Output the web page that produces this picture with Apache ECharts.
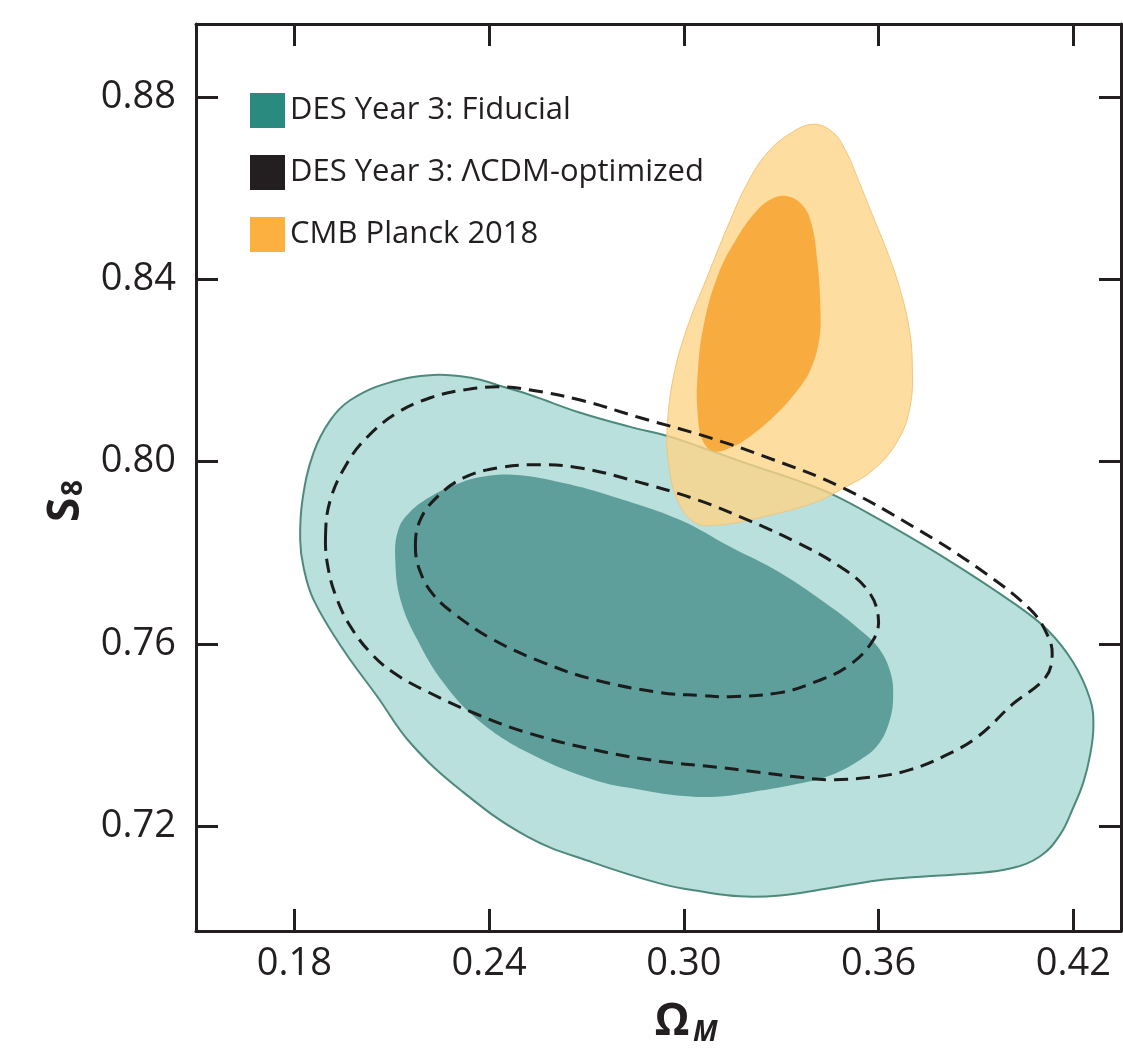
<!DOCTYPE html>
<html>
<head>
<meta charset="utf-8">
<script src="https://cdn.jsdelivr.net/npm/echarts@6/dist/echarts.min.js"></script>
<style>
html,body{margin:0;padding:0;background:#fff;}
#c{width:1123px;height:1050px;}
</style>
</head>
<body>
<div id="c"></div>
<script>
// ---- data (Omega_M, S8) ----
const xTicks = [0.18, 0.24, 0.30, 0.36, 0.42];
const yTicks = [0.72, 0.76, 0.80, 0.84, 0.88];

const fiducialOuter = [
  [0.1818,0.7828],[0.1825,0.7916],[0.1859,0.8019],[0.1911,0.8091],[0.1973,0.8135],[0.2087,0.8172],
  [0.2228,0.8190],[0.2351,0.8183],[0.2425,0.8168],[0.2527,0.8146],[0.2681,0.8107],[0.2835,0.8076],
  [0.2949,0.8056],[0.3051,0.8032],[0.3205,0.7993],[0.3359,0.7956],[0.3461,0.7927],[0.3605,0.7872],
  [0.3812,0.7785],[0.4015,0.7690],[0.4120,0.7631],[0.4200,0.7559],[0.4252,0.7478],[0.4262,0.7419],
  [0.4252,0.7357],[0.4231,0.7296],[0.4200,0.7241],[0.4160,0.7182],[0.4098,0.7134],[0.4006,0.7107],
  [0.3883,0.7096],[0.3750,0.7090],[0.3596,0.7081],[0.3442,0.7063],[0.3297,0.7048],[0.3174,0.7046],
  [0.3051,0.7057],[0.2928,0.7074],
  [0.2721,0.7120],[0.2518,0.7177],[0.2311,0.7280],[0.2157,0.7383],[0.2056,0.7484],[0.1951,0.7587],
  [0.1859,0.7697],[0.1828,0.7769]
];
const fiducialInner = [
  [0.2111,0.7785],[0.2120,0.7850],[0.2157,0.7890],[0.2219,0.7923],[0.2296,0.7949],[0.2373,0.7966],
  [0.2475,0.7971],[0.2629,0.7953],[0.2783,0.7923],[0.2989,0.7872],[0.3143,0.7813],[0.3297,0.7756],
  [0.3451,0.7682],[0.3534,0.7636],[0.3599,0.7592],[0.3636,0.7539],[0.3645,0.7484],[0.3633,0.7429],
  [0.3599,0.7379],[0.3544,0.7346],[0.3442,0.7309],[0.3337,0.7291],[0.3236,0.7278],[0.3112,0.7265],
  [0.2989,0.7267],[0.2866,0.7280],
  [0.2721,0.7302],[0.2518,0.7362],[0.2364,0.7434],[0.2259,0.7515],[0.2179,0.7609],[0.2127,0.7697]
];
const lcdmOuter = [
  [0.1896,0.7835],[0.1911,0.7916],[0.1963,0.7997],[0.2025,0.8054],[0.2117,0.8107],[0.2219,0.8140],
  [0.2321,0.8157],[0.2425,0.8164],[0.2527,0.8157],[0.2681,0.8135],[0.2866,0.8096],[0.3072,0.8054],
  [0.3276,0.8004],[0.3482,0.7945],[0.3707,0.7857],[0.3913,0.7763],[0.4068,0.7675],[0.4120,0.7620],
  [0.4135,0.7576],[0.4114,0.7526],[0.4012,0.7467],[0.3907,0.7397],[0.3800,0.7353],[0.3698,0.7324],
  [0.3596,0.7309],[0.3442,0.7302],[0.3337,0.7309],[0.3236,0.7318],[0.3082,0.7331],[0.2928,0.7342],
  [0.2721,0.7368],[0.2518,0.7405],[0.2364,0.7445],[0.2210,0.7495],[0.2105,0.7537],[0.2034,0.7581],
  [0.1973,0.7638],[0.1932,0.7697],[0.1905,0.7763]
];
const lcdmInner = [
  [0.2173,0.7813],[0.2188,0.7872],[0.2241,0.7923],[0.2321,0.7964],[0.2425,0.7986],[0.2558,0.7993],
  [0.2681,0.7986],[0.2835,0.7960],[0.3042,0.7916],[0.3196,0.7872],[0.3350,0.7822],[0.3482,0.7769],
  [0.3565,0.7719],[0.3599,0.7660],[0.3584,0.7609],[0.3504,0.7550],[0.3399,0.7515],[0.3297,0.7493],
  [0.3143,0.7484],[0.3051,0.7487],[0.2928,0.7493],[0.2721,0.7522],[0.2567,0.7559],[0.2413,0.7609],
  [0.2296,0.7664],[0.2228,0.7708],[0.2188,0.7758]
];
const planckOuter = [
  [0.3399,0.8740],[0.3458,0.8723],[0.3498,0.8683],[0.3538,0.8617],[0.3581,0.8541],[0.3627,0.8460],
  [0.3667,0.8376],[0.3695,0.8289],[0.3704,0.8212],[0.3698,0.8124],[0.3661,0.8048],
  [0.3584,0.7982],[0.3482,0.7938],[0.3399,0.7909],
  [0.3245,0.7879],[0.3112,0.7861],[0.3035,0.7866],[0.2980,0.7916],[0.2952,0.8004],[0.2949,0.8076],
  [0.2968,0.8186],[0.3011,0.8295],[0.3072,0.8405],[0.3134,0.8514],[0.3196,0.8611],[0.3257,0.8677],
  [0.3328,0.8720]
];
const planckInner = [
  [0.3319,0.8582],[0.3359,0.8567],[0.3390,0.8530],[0.3411,0.8442],[0.3421,0.8332],[0.3417,0.8267],
  [0.3390,0.8201],[0.3344,0.8151],[0.3282,0.8102],[0.3211,0.8059],[0.3143,0.8030],[0.3091,0.8023],
  [0.3057,0.8048],[0.3042,0.8113],[0.3042,0.8186],[0.3060,0.8295],[0.3103,0.8405],[0.3165,0.8492],
  [0.3227,0.8552],[0.3276,0.8578]
];

const NAME_FID = 'DES Year 3: Fiducial';
const NAME_LCDM = 'DES Year 3: \u039BCDM-optimized';
const NAME_CMB = 'CMB Planck 2018';

const INK = '#231f20';
const FONT = '"Open Sans", "Liberation Sans", sans-serif';

function contour(name, pts, legendColor, style, z) {
  return {
    type: 'custom',
    name: name,
    coordinateSystem: 'cartesian2d',
    data: pts,
    z: z,
    silent: true,
    itemStyle: { color: legendColor },
    renderItem: function (params, api) {
      if (params.dataIndex !== 0) return null;
      const P = pts.map(function (p) { return api.coord(p); });
      return {
        type: 'polygon',
        shape: { points: P, smooth: 0.4 },
        style: style
      };
    }
  };
}

const chart = echarts.init(document.getElementById('c'), null, { renderer: 'canvas' });

const axisLineStyle = { show: true, lineStyle: { color: INK, width: 3 } };
const tickStyle = (vals) => ({ show: true, inside: true, length: 22, customValues: vals, lineStyle: { color: INK, width: 3 } });

chart.setOption({
  animation: false,
  backgroundColor: '#fff',
  grid: { left: 196, right: 2, top: 24, bottom: 119, containLabel: false },
  xAxis: [
    {
      type: 'value', min: 0.1497, max: 0.4347, position: 'bottom',
      axisLine: axisLineStyle, axisTick: tickStyle(xTicks),
      axisLabel: { customValues: xTicks, formatter: v => v.toFixed(2), fontSize: 38, fontFamily: FONT, color: INK, margin: 14 },
      splitLine: { show: false }
    },
    {
      type: 'value', min: 0.1497, max: 0.4347, position: 'top',
      axisLine: axisLineStyle, axisTick: tickStyle(xTicks),
      axisLabel: { show: false }, splitLine: { show: false }
    }
  ],
  yAxis: [
    {
      type: 'value', min: 0.697, max: 0.896, position: 'left',
      axisLine: axisLineStyle, axisTick: tickStyle(yTicks),
      axisLabel: { customValues: yTicks, formatter: v => v.toFixed(2), fontSize: 38, fontFamily: FONT, color: INK, margin: 20 },
      splitLine: { show: false }
    },
    {
      type: 'value', min: 0.697, max: 0.896, position: 'right',
      axisLine: axisLineStyle, axisTick: tickStyle(yTicks),
      axisLabel: { show: false }, splitLine: { show: false }
    }
  ],
  legend: {
    left: 250, top: 93, orient: 'vertical', padding: 0,
    itemWidth: 35, itemHeight: 35, itemGap: 27, icon: 'rect',
    selectedMode: false,
    textStyle: { fontSize: 31, fontFamily: FONT, color: INK },
    data: [
      { name: NAME_FID, itemStyle: { color: '#2b8a80' } },
      { name: NAME_LCDM, itemStyle: { color: '#231f20' } },
      { name: NAME_CMB, itemStyle: { color: '#fbb040' } }
    ]
  },
  series: [
    contour(NAME_FID, fiducialOuter, '#2b8a80', { fill: '#b9e0dc', stroke: '#4e8a7c', lineWidth: 2 }, 1),
    contour(NAME_FID, fiducialInner, '#2b8a80', { fill: '#5f9f9b', stroke: null, lineWidth: 0 }, 2),
    contour(NAME_CMB, planckOuter, '#fbb040', { fill: 'rgba(252,212,136,0.8)', stroke: '#f4c47c', lineWidth: 1 }, 3),
    contour(NAME_CMB, planckInner, '#fbb040', { fill: '#f8ab3e', stroke: null, lineWidth: 0 }, 4),
    contour(NAME_LCDM, lcdmOuter, '#231f20', { fill: 'none', stroke: '#1c1c1c', lineWidth: 3, lineDash: [14, 8] }, 5),
    contour(NAME_LCDM, lcdmInner, '#231f20', { fill: 'none', stroke: '#1c1c1c', lineWidth: 3, lineDash: [14, 8] }, 5)
  ],
  graphic: [
    {
      type: 'group', x: 684, y: 1022,
      children: [
        { type: 'text', x: -12, y: 0, style: { text: '\u03A9', font: 'bold 44px ' + FONT, fill: INK, align: 'center', verticalAlign: 'middle' } },
        { type: 'text', x: 9, y: 11, style: { text: 'M', font: 'italic bold 28px ' + FONT, fill: INK, align: 'left', verticalAlign: 'middle' } }
      ]
    },
    {
      type: 'group', x: 66, y: 502, rotation: Math.PI / 2,
      children: [
        { type: 'text', x: -8, y: 0, style: { text: 'S', font: 'bold 44px ' + FONT, fill: INK, align: 'center', verticalAlign: 'middle' } },
        { type: 'text', x: 6, y: 8, style: { text: '8', font: 'bold 28px ' + FONT, fill: INK, align: 'left', verticalAlign: 'middle' } }
      ]
    }
  ]
});
</script>
</body>
</html>
